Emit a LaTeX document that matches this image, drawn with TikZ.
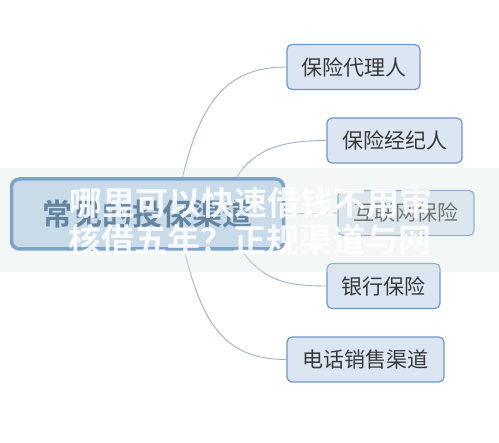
\documentclass[tikz,border=0pt]{standalone}
\usepackage{fontspec}
\newfontfamily\cjk{Noto Sans CJK SC}[BoldFont={Noto Sans CJK SC Bold}]
\usetikzlibrary{positioning}
\definecolor{rootfill}{HTML}{BFD4EA}
\definecolor{rootline}{HTML}{4A7EBB}
\definecolor{roottext}{HTML}{244F7C}
\definecolor{topicfill}{HTML}{DCE6F2}
\definecolor{topicline}{HTML}{6E96C6}
\definecolor{branchcol}{HTML}{9FB2C6}
\definecolor{bandcol}{HTML}{DDE9E5}

\begin{document}
\begin{tikzpicture}[x=1pt,y=-1pt,
root/.style={draw=rootline,line width=3.5pt,rounded corners=8pt,fill=rootfill,minimum width=272pt,minimum height=70pt,font=\cjk\bfseries\fontsize{30}{34}\selectfont,text=roottext},
topic/.style={draw=topicline,line width=1.2pt,rounded corners=5pt,fill=topicfill,minimum height=45pt,inner sep=0pt,font=\cjk\fontsize{21}{24}\selectfont,text=black!78},
branch/.style={draw=branchcol,line width=0.9pt},
overlay/.style={text=white,opacity=0.88,font=\cjk\bfseries\fontsize{33}{36}\selectfont}]
\fill[white] (0,0) rectangle (499,443);
\useasboundingbox (0,0) rectangle (499,443);
\node[root] (root) at (147.5,214) {常见的投保渠道};
\node[topic,minimum width=133pt] (agent) at (353.5,67) {保险代理人};
\node[topic,minimum width=135pt] (broker) at (394.5,140.5) {保险经纪人};
\node[topic,minimum width=136pt] (online) at (406,213) {互联网保险};
\node[topic,minimum width=113pt] (bank) at (383.5,286) {银行保险};
\node[topic,minimum width=157pt] (phone) at (365.5,359.5) {电话销售渠道};
\draw[branch] ([xshift=35pt]root.north) .. controls +(18,-75) and +(-60,0) .. (agent.west);
\draw[branch] ([xshift=89pt]root.north) .. controls +(18,-28) and +(-45,0) .. (broker.west);
\draw[branch,dashed,dash pattern=on 7pt off 5pt] (root.east) -- (online.west);
\draw[branch] ([xshift=94pt]root.south) .. controls +(22,28) and +(-45,0) .. (bank.west);
\draw[branch] ([xshift=37pt]root.south) .. controls +(18,75) and +(-60,0) .. (phone.west);
% translucent band across the middle
\fill[bandcol,opacity=0.35] (0,168) rectangle (499,272);
\node[overlay] (line1) at (251,203) {哪里可以快速借钱不用审};
\node[overlay] (line2) at (250,240) {核借五年？正规渠道与网};
\end{tikzpicture}
\end{document}
